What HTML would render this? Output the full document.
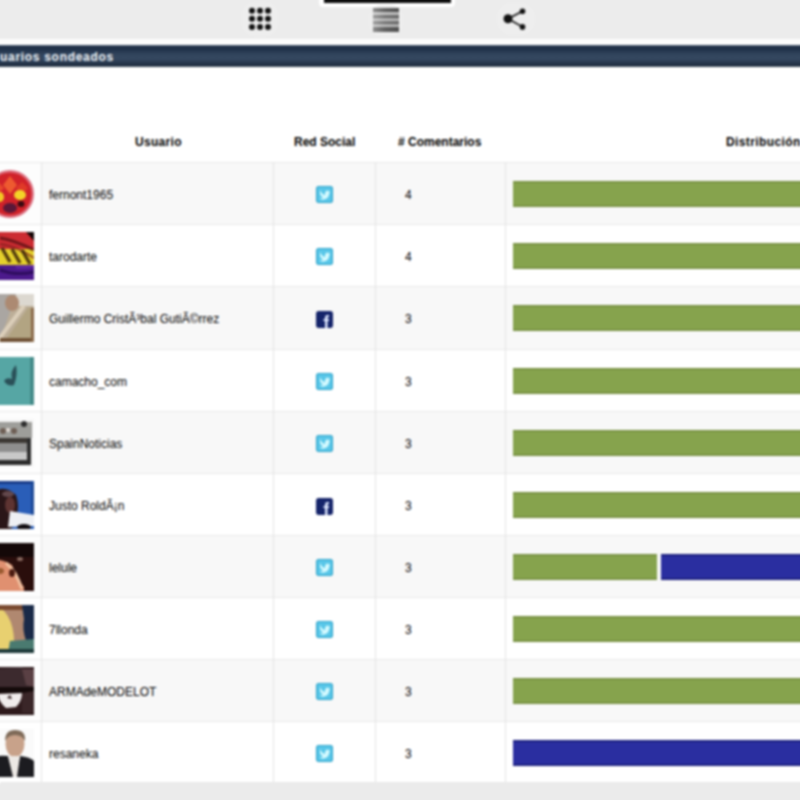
<!DOCTYPE html>
<html><head><meta charset="utf-8">
<style>
*{box-sizing:border-box;margin:0;padding:0}
html,body{width:800px;height:800px;overflow:hidden;background:#ebebeb;font-family:"Liberation Sans",sans-serif}
.abs{position:absolute}
#top{position:absolute;left:-10px;top:-10px;width:820px;height:49px;background:#ececec}
#white1{position:absolute;left:-10px;top:38.5px;width:820px;height:6.5px;background:#fdfdfd}
#tabbar{position:absolute;left:323.5px;top:-5px;width:127px;height:8px;background:#0c0c0c}
#navy{position:absolute;left:-10px;top:45px;width:820px;padding-left:10px!important;height:22px;background:linear-gradient(#5a6a80 0,#1e2e44 8%,#22344c 22%,#33465e 45%,#34475f 65%,#24344a 85%,#1e2b3c 95%,#6a7888 100%);color:#eef2f6;font-weight:bold;font-size:12px;letter-spacing:0.7px;line-height:24.5px;padding-left:0;white-space:nowrap}
#content{position:absolute;left:-10px;top:67px;width:820px;height:715px;background:#fff}
.hdr{position:absolute;top:135px;font-size:12px;font-weight:bold;color:#000;white-space:nowrap;line-height:14px}
.row{position:absolute;left:0;width:810px;height:62px;border-top:1px solid #e8e8e8}
.row::before{content:"";position:absolute;left:-10px;top:-1px;width:10px;height:62px;background:inherit;border-top:inherit}
.row.odd{background:#f8f8f8}
.row.odd::before{background:#fdfdfd}
.cellav{position:absolute;left:0;top:0;width:41px;height:100%;background:#fdfdfd}
.row.even{background:#fff}
.vl{position:absolute;top:162px;width:1px;height:620px;background:#e4e4e4}
.name{position:absolute;left:49px;font-size:12px;color:#000;line-height:14px;top:25px;white-space:nowrap}
.num{position:absolute;left:405px;font-size:12px;color:#000;line-height:14px;top:25px}
.ico{position:absolute;left:316px;top:24px;width:17px;height:17px;border-radius:2px}
.tw{background:#47bde6}
.fb{background:#2e4a8f}
.bar{position:absolute;top:18px;height:26px}
.g{background:#86a34d;border-top:2px solid #7a9344;border-bottom:2px solid #7a9344}
.b{background:#2a2ea0;border-top:2px solid #1d2180;border-bottom:2px solid #1d2180}
.av{position:absolute;left:-14px;top:7px;width:48px;height:48px;overflow:hidden;filter:blur(0.7px)}
.av svg{display:block}
#wrap{position:absolute;left:-10px;top:-10px;width:820px;height:820px;filter:blur(0.8px)}
#inner{position:absolute;left:10px;top:10px;width:800px;height:800px}
</style></head><body><div id="wrap"><div id="inner">
<div id="top"></div>
<div class="abs" style="left:319px;top:-5px;width:136px;height:12px;background:#fff;border-radius:0 0 4px 4px"></div><div id="tabbar"></div><div class="abs" style="left:242px;top:2px;width:36px;height:34px;background:#eeeeee;border-radius:12px"></div><div class="abs" style="left:369px;top:5px;width:34px;height:31px;background:#eeeeee;border-radius:12px"></div><div class="abs" style="left:497px;top:3px;width:38px;height:32px;background:#eeeeee;border-radius:14px"></div>
<div id="white1"></div>
<div id="navy">uarios sondeados</div>
<div id="content"></div>

<!-- nav icons -->
<svg class="abs" style="left:240px;top:0" width="40" height="40">
  <g fill="#111">
    <circle cx="12" cy="10.7" r="3"/><circle cx="20" cy="10.7" r="3"/><circle cx="28" cy="10.7" r="3"/>
    <circle cx="12" cy="18.8" r="3"/><circle cx="20" cy="18.8" r="3"/><circle cx="28" cy="18.8" r="3"/>
    <circle cx="12" cy="27" r="3"/><circle cx="20" cy="27" r="3"/><circle cx="28" cy="27" r="3"/>
  </g>
</svg>
<svg class="abs" style="left:373px;top:8px" width="26" height="24">
  <defs><linearGradient id="lg" x1="0" x2="1"><stop offset="0" stop-color="#fff" stop-opacity="0.35"/><stop offset="0.45" stop-color="#fff" stop-opacity="0.1"/><stop offset="1" stop-color="#fff" stop-opacity="0"/></linearGradient></defs>
  <rect x="0" y="0" width="26" height="24" fill="#b9b9b9"/>
  <rect x="0" y="0" width="26" height="4" fill="#505050"/>
  <rect x="0" y="7" width="26" height="3.5" fill="#666"/>
  <rect x="0" y="13" width="26" height="3.5" fill="#6a6a6a"/>
  <rect x="0" y="19" width="26" height="5" fill="#505050"/>
  <rect x="0" y="0" width="26" height="24" fill="url(#lg)"/>
</svg>
<svg class="abs" style="left:495px;top:0" width="40" height="40">
  <g stroke="#111" stroke-width="1.6"><line x1="13" y1="18.8" x2="27.5" y2="11.2"/><line x1="13" y1="18.8" x2="27.5" y2="26.9"/></g>
  <g fill="#111"><circle cx="13" cy="18.8" r="4.5"/><circle cx="27.5" cy="11.2" r="2.8"/><circle cx="27.5" cy="26.9" r="2.8"/></g>
</svg>

<div class="hdr" style="left:135px;letter-spacing:0.3px">Usuario</div>
<div class="hdr" style="left:294px">Red Social</div>
<div class="hdr" style="left:398px"># Comentarios</div>
<div class="hdr" style="left:726px;letter-spacing:0.4px">Distribución</div>

<div class="row odd" style="top:162px;height:62px">
  <div class="cellav"></div>
  <div class="av"><svg width="48" height="48">
<circle cx="24" cy="24" r="22.8" fill="#d0222a" stroke="#dc7080" stroke-width="2.4"/>
<path d="M24 6 L31 15 L24 24 L17 15Z" fill="#ee5a30"/>
<path d="M12 12 L18 18 L12 24 L6 18Z" fill="#e84a2c"/>
<path d="M36 12 L42 18 L36 24 L30 18Z" fill="#e03a28"/>
<ellipse cx="34" cy="25" rx="6" ry="5" fill="#f4d428"/><ellipse cx="14" cy="27" rx="4" ry="5" fill="#f2c824"/>
<ellipse cx="35" cy="34" rx="3.5" ry="3" fill="#3a0a10"/><ellipse cx="24" cy="38" rx="7" ry="5" fill="#5a1838"/></svg></div>
  <div class="name">fernont1965</div><svg class="ico" style="top:23px" width="17" height="17"><rect x="0.5" y="0.5" width="16" height="16" rx="2" fill="#58c6e8" stroke="#2fa2c8" stroke-width="1.2"/><path d="M4 4 Q6 8.5 9 9 Q8.5 5.5 11 4.5 Q12.5 4.5 13 5.5 L14 5 L13.5 7 Q13 12.5 8 13.5 Q5.5 14 3.5 12.5 Q6 12.5 7 11.5 Q4.5 10.5 4 8 Z" fill="#d4faff"/></svg><div class="num">4</div>
  <div class="bar g" style="left:513px;width:300px"></div>
</div>
<div class="row even" style="top:224px;height:62px">
  <div class="av"><svg width="48" height="48"><rect width="48" height="17" fill="#cc2c32"/><rect y="17" width="48" height="17" fill="#e4d02c"/><rect y="33" width="48" height="15" fill="#4c1a8c"/>
<path d="M14 6 Q28 8 48 18" stroke="#5a1014" stroke-width="3" fill="none" opacity="0.8"/>
<path d="M14 12 Q30 14 48 26" stroke="#7a1a1a" stroke-width="2.5" fill="none" opacity="0.6"/>
<path d="M16 16 L24 30 M26 17 L34 31 M36 18 L44 32" stroke="#3a2208" stroke-width="3.5" fill="none" opacity="0.85"/>
<path d="M40 0 L48 0 L48 9 Z" fill="#140606"/>
<path d="M14 38 Q30 44 48 40" stroke="#22084a" stroke-width="3" fill="none" opacity="0.7"/>
<path d="M30 35 Q40 36 48 34" stroke="#7a3ac0" stroke-width="2" fill="none" opacity="0.6"/></svg></div>
  <div class="name">tarodarte</div><svg class="ico" style="top:23px" width="17" height="17"><rect x="0.5" y="0.5" width="16" height="16" rx="2" fill="#58c6e8" stroke="#2fa2c8" stroke-width="1.2"/><path d="M4 4 Q6 8.5 9 9 Q8.5 5.5 11 4.5 Q12.5 4.5 13 5.5 L14 5 L13.5 7 Q13 12.5 8 13.5 Q5.5 14 3.5 12.5 Q6 12.5 7 11.5 Q4.5 10.5 4 8 Z" fill="#d4faff"/></svg><div class="num">4</div>
  <div class="bar g" style="left:513px;width:300px"></div>
</div>
<div class="row odd" style="top:286px;height:63px">
  <div class="cellav"></div>
  <div class="av"><svg width="48" height="48"><rect width="48" height="48" fill="#bcae98"/>
<rect x="30" y="0" width="18" height="12" fill="#dcd8d0"/>
<path d="M0 0 L30 0 L26 12 L14 46 L0 46Z" fill="#aaa6a2"/>
<ellipse cx="26" cy="9" rx="7" ry="8" fill="#ac8a72"/>
<path d="M18 48 L42 14 L48 14 L48 48Z" fill="#b2a482"/>
<path d="M12 46 L38 12" stroke="#dccfba" stroke-width="4"/>
<rect x="14" y="44" width="34" height="4" fill="#6e5034"/>
<rect x="45" y="14" width="3" height="34" fill="#8a6a4a"/></svg></div>
  <div class="name">Guillermo CristÃ³bal GutiÃ©rrez</div><svg class="ico" width="17" height="17"><rect width="17" height="17" rx="2" fill="#15246a"/><path d="M9 17 L9 10 L7.5 10 L7.5 8 L9 8 L9 6.5 Q9 4 11.5 4 L13 4 L13 6 L12 6 Q11.5 6 11.5 6.8 L11.5 8 L13 8 L12.8 10 L11.5 10 L11.5 17 Z" fill="#dfe8ff"/></svg><div class="num">3</div>
  <div class="bar g" style="left:513px;width:300px"></div>
</div>
<div class="row even" style="top:349px;height:62px">
  <div class="av"><svg width="48" height="48"><rect width="48" height="48" fill="#56a6a4"/>
<path d="M30 8 Q24 14 26 22 Q20 20 18 24 Q22 30 28 28 Q32 18 30 8Z" fill="#2a5058"/>
<rect x="44" y="0" width="4" height="48" fill="#3a7a78" opacity="0.6"/></svg></div>
  <div class="name">camacho_com</div><svg class="ico" style="top:23px" width="17" height="17"><rect x="0.5" y="0.5" width="16" height="16" rx="2" fill="#58c6e8" stroke="#2fa2c8" stroke-width="1.2"/><path d="M4 4 Q6 8.5 9 9 Q8.5 5.5 11 4.5 Q12.5 4.5 13 5.5 L14 5 L13.5 7 Q13 12.5 8 13.5 Q5.5 14 3.5 12.5 Q6 12.5 7 11.5 Q4.5 10.5 4 8 Z" fill="#d4faff"/></svg><div class="num">3</div>
  <div class="bar g" style="left:513px;width:300px"></div>
</div>
<div class="row odd" style="top:411px;height:62px">
  <div class="cellav"></div>
  <div class="av"><svg width="48" height="48"><rect width="48" height="48" fill="#f6f6f6"/>
<rect x="0" y="3" width="46" height="16" fill="#9e9e9a"/>
<circle cx="38" cy="5" r="3" fill="#2e2e2e"/>
<ellipse cx="17" cy="12" rx="3" ry="3" fill="#6e5e54"/><ellipse cx="28" cy="12" rx="3" ry="3" fill="#6e5e54"/><ellipse cx="22" cy="11" rx="2" ry="2" fill="#e8e0d8"/>
<rect x="0" y="19" width="45" height="5" fill="#3c3834"/>
<rect x="0" y="24" width="45" height="9" fill="#8e8e8e"/>
<rect x="0" y="33" width="45" height="8" fill="#c8c8c8"/>
<rect x="0" y="41" width="45" height="5" fill="#2c2c2c"/>
<rect x="41" y="19" width="4" height="27" fill="#2c2c2c"/></svg></div>
  <div class="name">SpainNoticias</div><svg class="ico" style="top:23px" width="17" height="17"><rect x="0.5" y="0.5" width="16" height="16" rx="2" fill="#58c6e8" stroke="#2fa2c8" stroke-width="1.2"/><path d="M4 4 Q6 8.5 9 9 Q8.5 5.5 11 4.5 Q12.5 4.5 13 5.5 L14 5 L13.5 7 Q13 12.5 8 13.5 Q5.5 14 3.5 12.5 Q6 12.5 7 11.5 Q4.5 10.5 4 8 Z" fill="#d4faff"/></svg><div class="num">3</div>
  <div class="bar g" style="left:513px;width:300px"></div>
</div>
<div class="row even" style="top:473px;height:62px">
  <div class="av"><svg width="48" height="48"><rect width="48" height="48" fill="#2a5eb8"/>
<rect x="0" y="0" width="48" height="3" fill="#1a3c88"/><rect x="45" y="0" width="3" height="40" fill="#1e4a98"/>
<path d="M8 10 Q20 4 30 14 Q34 26 30 36 Q28 48 24 48 L0 48 L0 10Z" fill="#2a1618"/>
<ellipse cx="24" cy="24" rx="5" ry="8" fill="#5e3432"/>
<ellipse cx="22" cy="13" rx="6" ry="3" fill="#8a6a70" opacity="0.6"/>
<path d="M24 30 L48 34 L48 45 L22 46Z" fill="#eef0f4"/>
<ellipse cx="38" cy="46" rx="7" ry="3" fill="#100c10"/></svg></div>
  <div class="name">Justo RoldÃ¡n</div><svg class="ico" width="17" height="17"><rect width="17" height="17" rx="2" fill="#15246a"/><path d="M9 17 L9 10 L7.5 10 L7.5 8 L9 8 L9 6.5 Q9 4 11.5 4 L13 4 L13 6 L12 6 Q11.5 6 11.5 6.8 L11.5 8 L13 8 L12.8 10 L11.5 10 L11.5 17 Z" fill="#dfe8ff"/></svg><div class="num">3</div>
  <div class="bar g" style="left:513px;width:300px"></div>
</div>
<div class="row odd" style="top:535px;height:62px">
  <div class="cellav"></div>
  <div class="av"><svg width="48" height="48"><rect width="48" height="48" fill="#2a0e0c"/>
<path d="M0 18 Q14 14 26 22 Q30 34 38 44 L38 48 L0 48Z" fill="#e09070"/>
<path d="M20 20 Q30 28 36 46" stroke="#f0c0a0" stroke-width="3" fill="none"/>
<ellipse cx="14" cy="28" rx="4" ry="3" fill="#9a5a30"/>
<ellipse cx="26" cy="30" rx="3" ry="4" fill="#4a1a10"/>
<rect x="0" y="0" width="48" height="14" fill="#140808"/>
<ellipse cx="34" cy="16" rx="3" ry="2" fill="#8a6a60"/></svg></div>
  <div class="name">lelule</div><svg class="ico" style="top:23px" width="17" height="17"><rect x="0.5" y="0.5" width="16" height="16" rx="2" fill="#58c6e8" stroke="#2fa2c8" stroke-width="1.2"/><path d="M4 4 Q6 8.5 9 9 Q8.5 5.5 11 4.5 Q12.5 4.5 13 5.5 L14 5 L13.5 7 Q13 12.5 8 13.5 Q5.5 14 3.5 12.5 Q6 12.5 7 11.5 Q4.5 10.5 4 8 Z" fill="#d4faff"/></svg><div class="num">3</div>
  <div class="bar g" style="left:513px;width:144px"></div>
  <div class="bar b" style="left:661px;width:200px"></div>
</div>
<div class="row even" style="top:597px;height:62px">
  <div class="av"><svg width="48" height="48"><rect width="48" height="48" fill="#b08870"/>
<path d="M0 0 L10 0 Q30 10 28 46 L0 48Z" fill="#e8d070"/>
<rect x="0" y="0" width="48" height="5" fill="#7a4a30"/>
<path d="M36 0 L48 0 L48 40 L40 36 Q36 24 38 14Z" fill="#1a2a48"/>
<path d="M24 36 L48 34 L48 48 L22 48Z" fill="#4a7a70"/>
<rect x="0" y="44" width="48" height="4" fill="#1e3a3a"/></svg></div>
  <div class="name">7llonda</div><svg class="ico" style="top:23px" width="17" height="17"><rect x="0.5" y="0.5" width="16" height="16" rx="2" fill="#58c6e8" stroke="#2fa2c8" stroke-width="1.2"/><path d="M4 4 Q6 8.5 9 9 Q8.5 5.5 11 4.5 Q12.5 4.5 13 5.5 L14 5 L13.5 7 Q13 12.5 8 13.5 Q5.5 14 3.5 12.5 Q6 12.5 7 11.5 Q4.5 10.5 4 8 Z" fill="#d4faff"/></svg><div class="num">3</div>
  <div class="bar g" style="left:513px;width:300px"></div>
</div>
<div class="row odd" style="top:659px;height:62px">
  <div class="cellav"></div>
  <div class="av"><svg width="48" height="48"><rect width="48" height="48" fill="#2e1a1c"/>
<path d="M10 2 L36 0 L46 22 L10 22Z" fill="#3c2a2e"/>
<path d="M36 2 L48 2 L48 20 L40 18Z" fill="#5a4044"/>
<rect x="0" y="20" width="48" height="6" fill="#140a0a"/>
<path d="M12 27 L36 26 Q36 34 30 40 L20 41 Q12 34 12 27Z" fill="#f0ecec"/>
<path d="M21 31 L24 28 L26 32Z" fill="#2e1a1c"/>
<path d="M36 26 L48 24 L48 46 L36 46Z" fill="#3a2628"/></svg></div>
  <div class="name">ARMAdeMODELOT</div><svg class="ico" style="top:23px" width="17" height="17"><rect x="0.5" y="0.5" width="16" height="16" rx="2" fill="#58c6e8" stroke="#2fa2c8" stroke-width="1.2"/><path d="M4 4 Q6 8.5 9 9 Q8.5 5.5 11 4.5 Q12.5 4.5 13 5.5 L14 5 L13.5 7 Q13 12.5 8 13.5 Q5.5 14 3.5 12.5 Q6 12.5 7 11.5 Q4.5 10.5 4 8 Z" fill="#d4faff"/></svg><div class="num">3</div>
  <div class="bar g" style="left:513px;width:300px"></div>
</div>
<div class="row even" style="top:721px;height:61px">
  <div class="av"><svg width="48" height="48"><rect width="48" height="48" fill="#fafafa"/>
<ellipse cx="29" cy="15" rx="9.5" ry="13" fill="#c8a28a"/>
<path d="M19 12 Q19 1 29 1 Q40 1 39 12 Q36 6 29 6 Q22 6 19 12Z" fill="#7e6a58"/>
<path d="M0 30 Q8 26 22 27 L28 48 L0 48Z" fill="#1c1c20"/>
<path d="M34 27 Q44 28 48 32 L48 48 L30 48Z" fill="#1c1c20"/>
<path d="M22 27 L34 27 L31 48 L27 48Z" fill="#ece8e4"/></svg></div>
  <div class="name">resaneka</div><svg class="ico" style="top:23px" width="17" height="17"><rect x="0.5" y="0.5" width="16" height="16" rx="2" fill="#58c6e8" stroke="#2fa2c8" stroke-width="1.2"/><path d="M4 4 Q6 8.5 9 9 Q8.5 5.5 11 4.5 Q12.5 4.5 13 5.5 L14 5 L13.5 7 Q13 12.5 8 13.5 Q5.5 14 3.5 12.5 Q6 12.5 7 11.5 Q4.5 10.5 4 8 Z" fill="#d4faff"/></svg><div class="num">3</div>
  <div class="bar b" style="left:513px;width:300px"></div>
</div>
<div class="vl" style="left:41px"></div>
<div class="vl" style="left:273px"></div>
<div class="vl" style="left:375px"></div>
<div class="vl" style="left:505px"></div>
</div></div></body></html>
